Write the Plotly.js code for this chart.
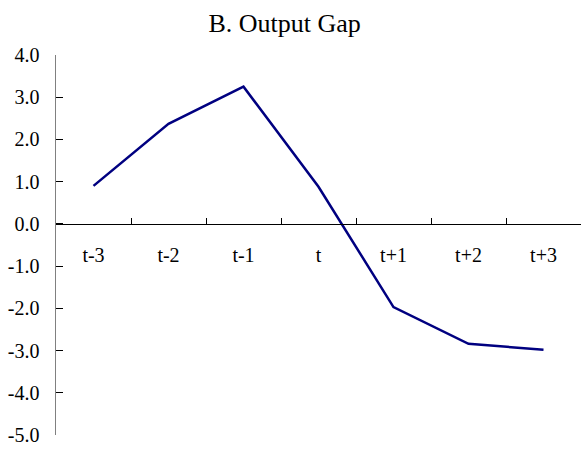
<!DOCTYPE html>
<html>
<head>
<meta charset="utf-8">
<script src="https://cdn.plot.ly/plotly-3.0.1.min.js"></script>
<style>
  html, body { margin: 0; padding: 0; background: #fff; }
  #chart { width: 581px; height: 449px; }
</style>
</head>
<body>
<div id="chart"></div>
<script>
// periods around the event
var periods = ["t-3", "t-2", "t-1", "t", "t+1", "t+2", "t+3"];

// output gap
var outputGap = [0.90, 2.37, 3.25, 0.88, -1.97, -2.84, -2.98];

// y axis ticks (hyphen minus, as in the original)
var yTickVals = [4, 3, 2, 1, 0, -1, -2, -3, -4, -5];
var yTickText = ["4.0", "3.0", "2.0", "1.0", "0.0", "-1.0", "-2.0", "-3.0", "-4.0", "-5.0"];

var trace = {
  x: periods,
  y: outputGap,
  type: "scatter",
  mode: "lines",
  line: { color: "#000080", width: 2.5 },
  hoverinfo: "skip"
};

var serif = "Liberation Serif";

var layout = {
  width: 581,
  height: 449,
  margin: { l: 56, r: 0, t: 55, b: 14 },
  paper_bgcolor: "#fff",
  plot_bgcolor: "#fff",
  showlegend: false,
  font: { family: serif, size: 20, color: "#000" },
  title: {
    text: "B. Output Gap",
    font: { family: serif, size: 26, color: "#000" },
    x: 0.49,
    xref: "container",
    y: 0.948,
    yref: "container",
    yanchor: "middle"
  },
  xaxis: {
    type: "category",
    range: [-0.5, 6.5],
    anchor: "free",
    position: 5 / 9,
    showline: true,
    linecolor: "#000",
    linewidth: 1,
    ticks: "inside",
    tickson: "boundaries",
    ticklen: 6,
    tickcolor: "#000",
    tickfont: { family: serif, size: 20, color: "#000" },
    ticklabelstandoff: 13,
    showgrid: false,
    zeroline: false,
    fixedrange: true
  },
  yaxis: {
    range: [-5, 4],
    tickvals: yTickVals,
    ticktext: yTickText,
    showline: true,
    linecolor: "#808080",
    linewidth: 1.5,
    ticks: "inside",
    ticklen: 7,
    tickcolor: "#000",
    tickfont: { family: serif, size: 20, color: "#000" },
    ticklabelstandoff: 11,
    showgrid: false,
    zeroline: false,
    fixedrange: true
  }
};

Plotly.newPlot("chart", [trace], layout, { displayModeBar: false, staticPlot: true });
</script>
</body>
</html>
